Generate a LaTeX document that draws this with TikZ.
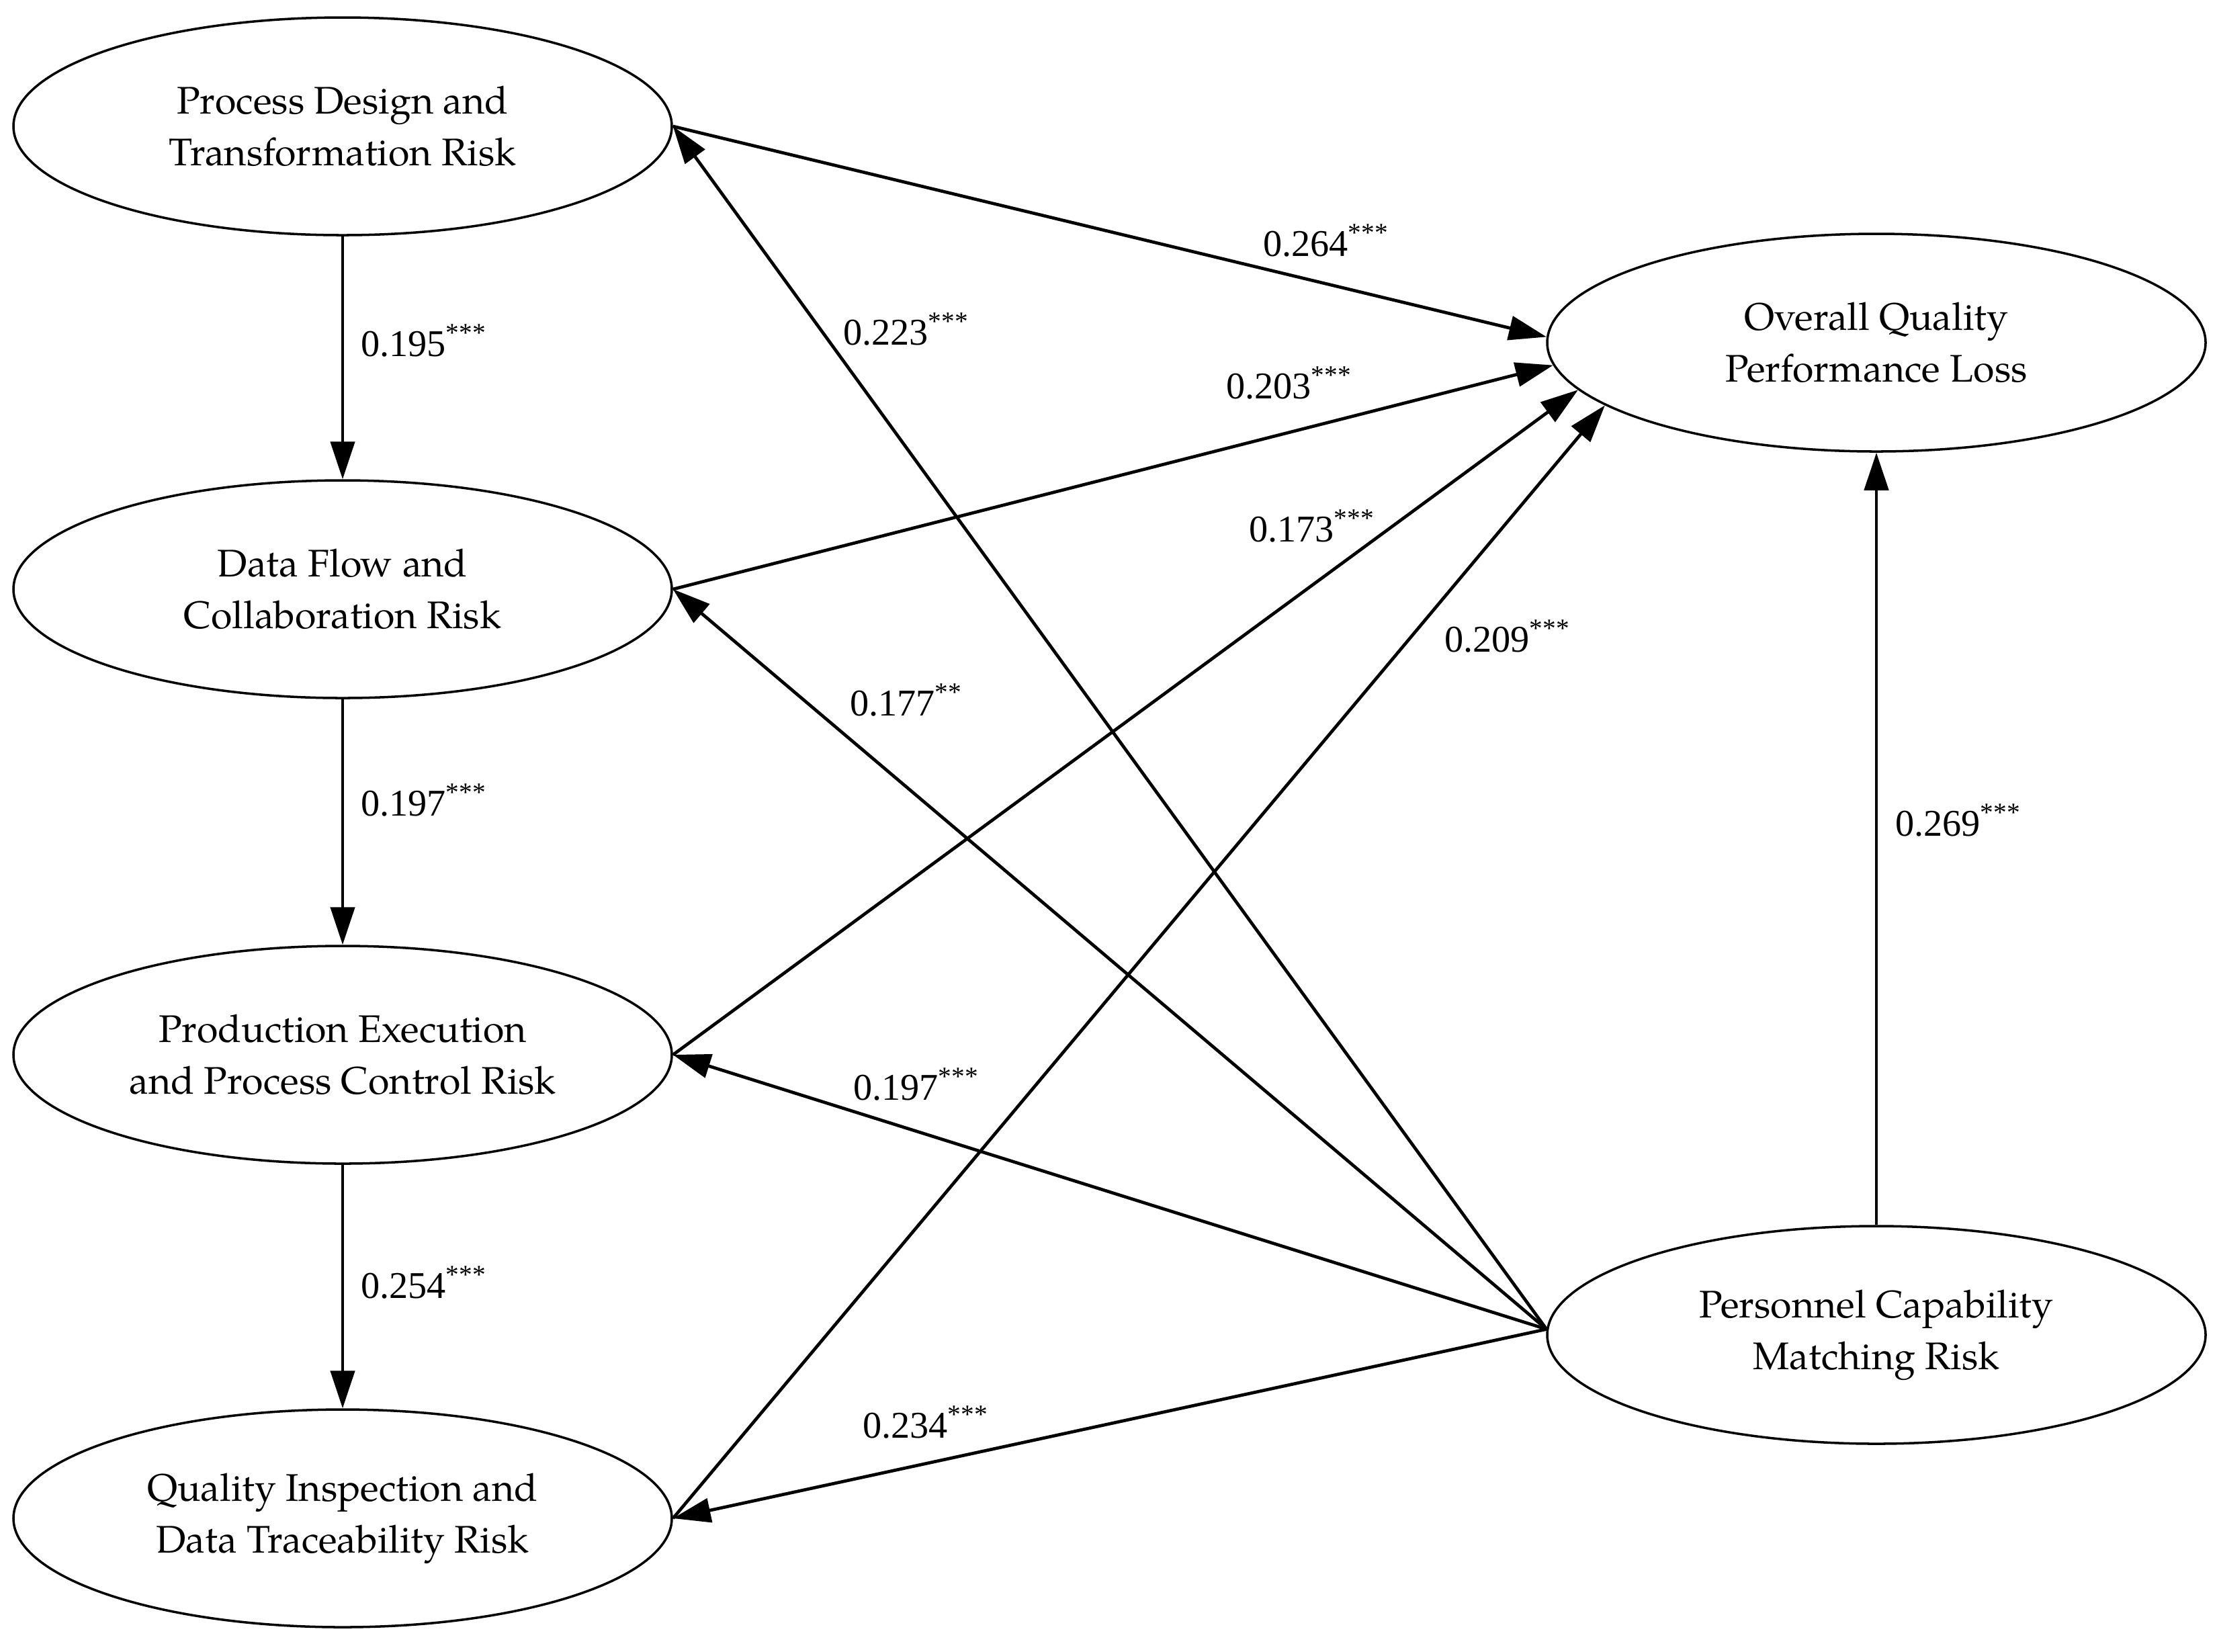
\documentclass[tikz,border=0pt]{standalone}
\usepackage{fontspec}
\setmainfont{TeX Gyre Pagella}
\newfontfamily\labelfont{Liberation Serif}
\usetikzlibrary{arrows.meta,shapes.geometric}
\begin{document}
\begin{tikzpicture}[
  latent/.style={ellipse, draw, line width=1pt, minimum width=9.8cm, minimum height=3.24cm,
    inner sep=0pt, align=center, font=\fontsize{16.3}{22}\selectfont},
  conn/.style={line width=1.35pt, -{Triangle[length=0.56cm,width=0.36cm]}},
  coef/.style={font=\labelfont\fontsize{16}{19}\selectfont, inner sep=0pt}
]
\useasboundingbox (0,0) rectangle (33,-24.58);

\node[latent] (PD) at (5.10,-1.88) {Process Design and\\Transformation Risk};
\node[latent] (DF) at (5.10,-8.77) {Data Flow and\\Collaboration Risk};
\node[latent] (PE) at (5.10,-15.70) {Production Execution\\and Process Control Risk};
\node[latent] (QI) at (5.10,-22.60) {Quality Inspection and\\Data Traceability Risk};
\node[latent] (OQ) at (27.93,-5.10) {Overall Quality\\Performance Loss};
\node[latent] (PC) at (27.93,-19.87) {Personnel Capability\\Matching Risk};

% vertical chain
\draw[conn] (PD.south) -- (DF.north);
\draw[conn] (DF.south) -- (PE.north);
\draw[conn] (PE.south) -- (QI.north);
\draw[conn] (PC.north) -- (OQ.south);

% to overall quality
\draw[conn] (PD.east) -- (OQ.179);
\draw[conn] (DF.east) -- (OQ.184);
\draw[conn] (PE.east) -- (OQ.189);
\draw[conn] (QI.east) -- (OQ.193);

% from personnel capability
\coordinate (src) at (PC.179);
\draw[conn] (src) -- (PD.east);
\draw[conn] (src) -- (DF.east);
\draw[conn] (src) -- (PE.east);
\draw[conn] (src) -- (QI.east);

% coefficients
\node[coef] (c1) at (19.74,-3.58) {0.264\textsuperscript{***}};
\node[coef] (c2) at (13.49,-4.90) {0.223\textsuperscript{***}};
\node[coef] (c3) at (6.31,-5.07) {0.195\textsuperscript{***}};
\node[coef] (c4) at (19.19,-5.70) {0.203\textsuperscript{***}};
\node[coef] (c5) at (19.53,-7.83) {0.173\textsuperscript{***}};
\node[coef] (c6) at (22.44,-9.47) {0.209\textsuperscript{***}};
\node[coef] (c7) at (13.49,-10.42) {0.177\textsuperscript{**}};
\node[coef] (c8) at (6.31,-11.91) {0.197\textsuperscript{***}};
\node[coef] (c9) at (29.15,-12.21) {0.269\textsuperscript{***}};
\node[coef] (c10) at (13.64,-16.14) {0.197\textsuperscript{***}};
\node[coef] (c11) at (6.31,-19.09) {0.254\textsuperscript{***}};
\node[coef] (c12) at (13.78,-21.17) {0.234\textsuperscript{***}};
\end{tikzpicture}
\end{document}
